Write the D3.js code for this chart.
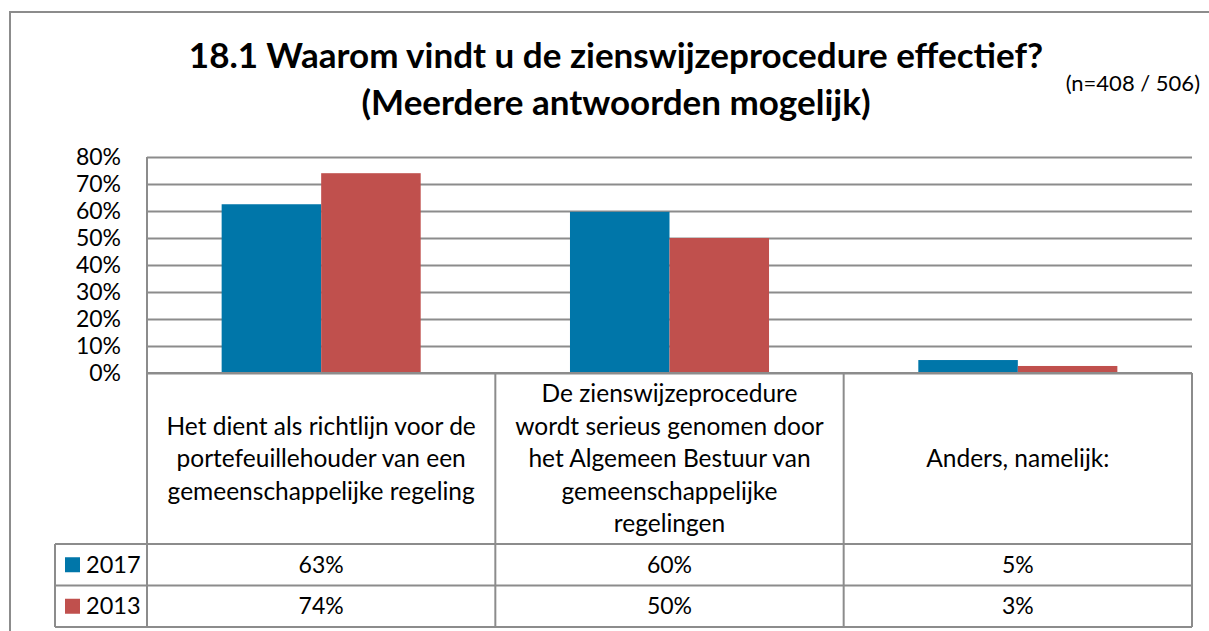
<!DOCTYPE html>
<html>
<head>
<meta charset="utf-8">
<script src="https://cdnjs.cloudflare.com/ajax/libs/d3/7.8.5/d3.min.js"></script>
<style>
  body { margin: 0; background: #fff; }
  svg { display: block; font-family: Lato, "Open Sans", sans-serif; }
</style>
</head>
<body>
<div class="chart"></div>
<script>
// data
const categories = [
    "Het dient als richtlijn voor de\nportefeuillehouder van een\ngemeenschappelijke regeling",
    "De zienswijzeprocedure\nwordt serieus genomen door\nhet Algemeen Bestuur van\ngemeenschappelijke\nregelingen",
    "Anders, namelijk:"
];
const series = ["2017", "2013"];
const values2017 = [0.625, 0.597, 0.048];
const values2013 = [0.74, 0.50, 0.026];
const yTicks = [0, 0.1, 0.2, 0.3, 0.4, 0.5, 0.6, 0.7, 0.8];
const colors = ["#0076A9", "#C0504D"];
const titleLines = ["18.1 Waarom vindt u de zienswijzeprocedure effectief?", "(Meerdere antwoorden mogelijk)"];
const subtitle = "(n=408 / 506)";

const width = 1209, height = 631;
const margin = {top: 157, right: 17, left: 147};
const plotBottom = 373;
const catRowBottom = 544;
const rowH = 41.5;
const legendLeft = 55;
const gridColor = "#8c8c8c";

const svg = d3.select(".chart").append("svg")
    .attr("width", width)
    .attr("height", height);

// outer frame
svg.append("rect")
    .attr("x", 10).attr("y", 12)
    .attr("width", 1240).attr("height", 660)
    .attr("fill", "none")
    .attr("stroke", gridColor)
    .attr("stroke-width", 2);

// title
svg.append("text")
    .attr("text-anchor", "middle")
    .attr("font-weight", "bold")
    .attr("font-size", 35)
    .selectAll("tspan")
    .data(titleLines)
    .enter().append("tspan")
    .attr("x", 616)
    .attr("y", (d, i) => 68 + i * 47)
    .text(d => d);

svg.append("text")
    .attr("x", 1200).attr("y", 91)
    .attr("text-anchor", "end")
    .attr("font-size", 22)
    .text(subtitle);

// scales
const x = d3.scaleBand()
    .domain(categories)
    .range([margin.left, width - margin.right]);

const xs = d3.scaleBand()
    .domain(series)
    .range([0, x.bandwidth()])
    .paddingInner(0)
    .paddingOuter(0.75);

const y = d3.scaleLinear()
    .domain([0, 0.8])
    .range([plotBottom, margin.top]);

const fmt = d3.format(".0%");

// gridlines
svg.append("g")
    .attr("transform", "translate(" + margin.left + ",0)")
    .call(d3.axisLeft(y).tickValues(yTicks).tickSize(-(width - margin.right - margin.left)).tickFormat(""))
    .call(g => g.select(".domain").remove())
    .call(g => g.selectAll("line").attr("stroke", gridColor).attr("stroke-width", 2));

// y axis labels
svg.append("g")
    .attr("transform", "translate(" + (margin.left - 26) + ",0)")
    .call(d3.axisLeft(y).tickValues(yTicks).tickSize(0).tickFormat(fmt))
    .call(g => g.select(".domain").remove())
    .call(g => g.selectAll("text")
        .attr("x", 0)
        .attr("font-size", 23)
        .attr("font-family", "Lato, sans-serif")
        .attr("fill", "#000"));

// bars
const table = series.map((s, si) => ({
    name: s,
    color: colors[si],
    values: (si === 0 ? values2017 : values2013)
}));

table.forEach(s => {
    svg.append("g").selectAll("rect")
        .data(s.values)
        .enter().append("rect")
        .attr("x", (d, i) => x(categories[i]) + xs(s.name))
        .attr("width", xs.bandwidth())
        .attr("y", d => y(d))
        .attr("height", d => y(0) - y(d))
        .attr("fill", s.color);
});

// vertical axis line
svg.append("line")
    .attr("x1", margin.left).attr("x2", margin.left)
    .attr("y1", margin.top).attr("y2", plotBottom)
    .attr("stroke", gridColor).attr("stroke-width", 2);

// data table
const tableBottom = catRowBottom + rowH * series.length;
const tg = svg.append("g")
    .attr("stroke", gridColor)
    .attr("stroke-width", 2);

// horizontal lines
tg.append("line")
    .attr("x1", margin.left).attr("x2", width - margin.right)
    .attr("y1", plotBottom).attr("y2", plotBottom);
d3.range(series.length + 1).forEach(i => {
    tg.append("line")
        .attr("x1", legendLeft).attr("x2", width - margin.right)
        .attr("y1", catRowBottom + i * rowH).attr("y2", catRowBottom + i * rowH);
});
// vertical lines
categories.concat([null]).forEach((c, i) => {
    const xx = i < categories.length ? x(c) : x.range()[1];
    tg.append("line")
        .attr("x1", xx).attr("x2", xx)
        .attr("y1", plotBottom).attr("y2", tableBottom);
});
tg.append("line")
    .attr("x1", legendLeft).attr("x2", legendLeft)
    .attr("y1", catRowBottom).attr("y2", tableBottom);

// category labels
const lineH = 32.5;
categories.forEach(c => {
    const lines = c.split("\n");
    const cy = (plotBottom + catRowBottom) / 2;
    svg.append("text")
        .attr("text-anchor", "middle")
        .attr("font-size", 24.5)
        .selectAll("tspan")
        .data(lines)
        .enter().append("tspan")
        .attr("x", x(c) + x.bandwidth() / 2)
        .attr("y", (d, i) => cy + (i - (lines.length - 1) / 2) * lineH)
        .attr("dy", "0.35em")
        .text(d => d);
});

// table rows
table.forEach((s, si) => {
    const cy = catRowBottom + rowH * si + rowH / 2;
    svg.append("rect")
        .attr("x", 65).attr("y", cy - 7.5)
        .attr("width", 15).attr("height", 15)
        .attr("fill", s.color);
    svg.append("text")
        .attr("x", 86).attr("y", cy)
        .attr("dy", "0.35em")
        .attr("font-size", 23.5)
        .text(s.name);
    svg.append("g").selectAll("text")
        .data(s.values)
        .enter().append("text")
        .attr("x", (d, i) => x(categories[i]) + x.bandwidth() / 2)
        .attr("y", cy)
        .attr("dy", "0.35em")
        .attr("text-anchor", "middle")
        .attr("font-size", 23)
        .text(d => fmt(d));
});
</script>
</body>
</html>
